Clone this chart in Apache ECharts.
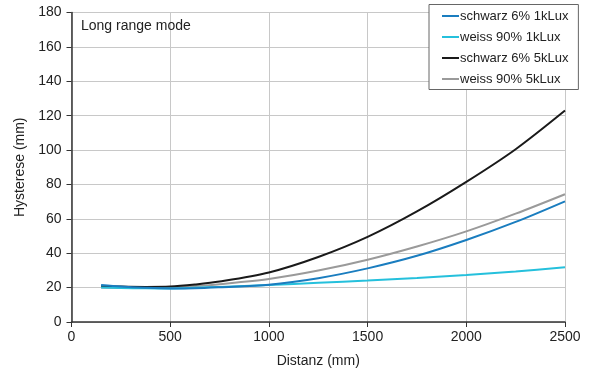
<!DOCTYPE html>
<html>
<head>
<meta charset="utf-8">
<script src="https://cdn.jsdelivr.net/npm/echarts@6/dist/echarts.min.js"></script>
<style>html,body{margin:0;padding:0;background:#fff}#c{width:600px;height:390px}</style>
</head>
<body>
<div id="c"></div>
<script>
var distances = [150, 250, 375, 500, 625, 750, 1000, 1250, 1500, 1750, 2000, 2250, 2500];
var schwarz1k = [21.5, 20.6, 19.9, 19.5, 19.6, 20.2, 21.7, 25.5, 31.2, 38.5, 47.7, 58.2, 70.2];
var weiss1k   = [20.0, 19.8, 19.6, 19.5, 19.9, 20.4, 21.5, 22.8, 24.1, 25.6, 27.4, 29.4, 31.9];
var schwarz5k = [21.0, 20.6, 20.4, 20.6, 21.8, 23.5, 28.8, 37.8, 49.5, 64.3, 81.5, 100.5, 123.0];
var weiss5k   = [20.0, 19.9, 19.9, 20.1, 20.9, 22.0, 25.0, 29.9, 36.2, 43.9, 52.7, 63.0, 74.3];
var seriesNames = ['schwarz 6% 1kLux', 'weiss 90% 1kLux', 'schwarz 6% 5kLux', 'weiss 90% 5kLux'];
var seriesColors = ['#1a7dbf', '#25c0dc', '#1a1a1a', '#9a9a9a'];
var xTicks = [0, 500, 1000, 1500, 2000, 2500];
var yTicks = [0, 20, 40, 60, 80, 100, 120, 140, 160, 180];

function pairs(ys){ return distances.map(function(d,i){ return [d, ys[i]]; }); }
var allY = [schwarz1k, weiss1k, schwarz5k, weiss5k];

var chart = echarts.init(document.getElementById('c'));
var font = 'Liberation Sans, Arial, sans-serif';
chart.setOption({
  animation: false,
  textStyle: { fontFamily: font },
  title: {
    text: 'Long range mode', left: 76, top: 14,
    textStyle: { fontSize: 14, fontWeight: 'normal', color: '#222', fontFamily: font }
  },
  legend: {
    orient: 'vertical', left: 429, top: 4.5,
    width: 157,
    padding: [5, 10, 4, 13],
    itemGap: 8,
    itemWidth: 17, itemHeight: 2,
    backgroundColor: '#fff',
    borderColor: '#666', borderWidth: 1,
    icon: 'rect',
    textStyle: { fontSize: 13, color: '#222', fontFamily: font, padding: [0, 0, 0, -4] },
    data: seriesNames
  },
  grid: { left: 71.5, right: 35, top: 12.5, bottom: 68 },
  xAxis: {
    type: 'value', min: xTicks[0], max: xTicks[xTicks.length-1], interval: 500,
    name: 'Distanz (mm)', nameLocation: 'middle', nameGap: 32,
    nameTextStyle: { fontSize: 14, color: '#222' },
    axisLine: { lineStyle: { color: '#333', width: 1.5 } },
    axisTick: { show: true, length: 5, lineStyle: { color: '#333' } },
    axisLabel: { fontSize: 14, color: '#222', margin: 8, formatter: function(v){ return String(v); } },
    splitLine: { show: true, lineStyle: { color: '#c8c8c8', width: 1 } }
  },
  yAxis: {
    type: 'value', min: yTicks[0], max: yTicks[yTicks.length-1], interval: 20,
    name: 'Hysterese (mm)', nameLocation: 'middle', nameGap: 44,
    nameTextStyle: { fontSize: 14, color: '#222' },
    axisLine: { show: true, lineStyle: { color: '#333', width: 1.5 } },
    axisTick: { show: true, length: 5, lineStyle: { color: '#333' } },
    axisLabel: { fontSize: 14, color: '#222', margin: 10, formatter: function(v){ return String(v); } },
    splitLine: { show: true, lineStyle: { color: '#c8c8c8', width: 1 } }
  },
  series: seriesNames.map(function(n, i){
    return {
      name: n, type: 'line', smooth: 0.3, showSymbol: false,
      data: pairs(allY[i]),
      lineStyle: { color: seriesColors[i], width: 2 },
      itemStyle: { color: seriesColors[i] },
      z: 10 - i
    };
  })
});
</script>
</body>
</html>
